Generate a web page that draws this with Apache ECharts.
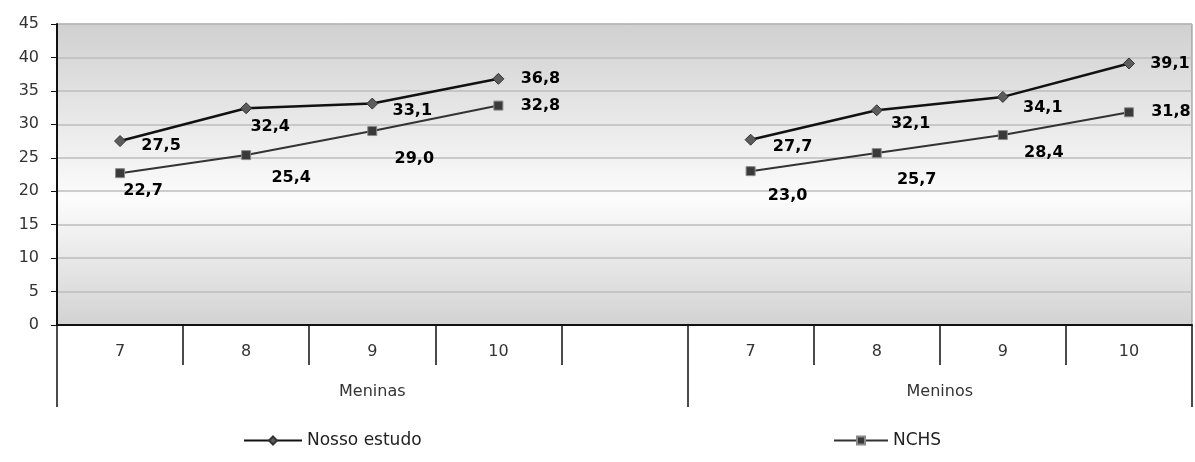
<!DOCTYPE html>
<html>
<head>
<meta charset="utf-8">
<script src="https://cdn.jsdelivr.net/npm/echarts@6/dist/echarts.min.js"></script>
<style>
  html, body { margin: 0; padding: 0; background: #fff; }
  #main { width: 1195px; height: 462px; }
</style>
</head>
<body>
<div id="main"></div>
<script>
// categories: ages per group, with an empty slot between Meninas and Meninos
const ages = ['7', '8', '9', '10', '', '7', '8', '9', '10'];
const groupNames = ['Meninas', 'Meninos'];
const groupSizes = [5, 4];

const seriesNames = ['Nosso estudo', 'NCHS'];
const nossoEstudo = [27.5, 32.4, 33.1, 36.8, null, 27.7, 32.1, 34.1, 39.1];
const nchs = [22.7, 25.4, 29.0, 32.8, null, 23.0, 25.7, 28.4, 31.8];

const yTicks = { min: 0, max: 45, interval: 5 };

// label offsets (px from point), the way Excel dodged them
const nossoLabelOffsets = [[41, 5], [24, 19], [40, 7], [42, 0], null, [42, 7], [34, 14], [40, 11], [41, 0]];
const nchsLabelOffsets = [[23, 18], [45, 23], [42, 28], [42, 0], null, [37, 25], [40, 27], [41, 18], [42, 0]];

// group boundaries and centres on a 0..n scale
const bounds = [0];
groupSizes.forEach((s) => bounds.push(bounds[bounds.length - 1] + s));
const centres = groupNames.map((_, i) => (bounds[i] + bounds[i + 1]) / 2);

const fmt = (p) => p.value.toFixed(1).replace('.', ',');

function withLabels(values, offsets) {
  return values.map((v, i) => {
    if (v == null) return null;
    return { value: v, label: { offset: offsets[i] } };
  });
}

const labelStyle = {
  show: true,
  position: 'inside',
  formatter: fmt,
  fontFamily: 'DejaVu Sans',
  fontWeight: 'bold',
  fontSize: 16,
  color: '#000',
};

const axisFont = { fontFamily: 'DejaVu Sans', fontSize: 16, color: '#333' };

const chart = echarts.init(document.getElementById('main'));
chart.setOption({
  animation: false,
  grid: {
    left: 57, right: 3, top: 24, bottom: 137,
    show: true,
    borderColor: '#8a8a8a',
    borderWidth: 1,
    backgroundColor: new echarts.graphic.LinearGradient(0, 0, 0, 1, [
      { offset: 0, color: '#d0d0d0' },
      { offset: 0.58, color: '#fcfcfc' },
      { offset: 1, color: '#d2d2d2' },
    ]),
  },
  legend: [
    {
      data: [seriesNames[0]], left: 238, top: 427,
      itemWidth: 58, itemHeight: 10, itemGap: 4,
      textStyle: { fontFamily: 'DejaVu Sans', fontSize: 17, color: '#222' },
    },
    {
      data: [seriesNames[1]], left: 828, top: 427,
      itemWidth: 54, itemHeight: 10, itemGap: 4,
      textStyle: { fontFamily: 'DejaVu Sans', fontSize: 17, color: '#222' },
    },
  ],
  xAxis: [
    {
      type: 'category',
      data: ages,
      position: 'bottom',
      axisLine: { lineStyle: { color: '#111', width: 2 } },
      axisTick: { show: true, interval: 0, length: 40, lineStyle: { color: '#111', width: 1.5 } },
      axisLabel: Object.assign({ interval: 0, margin: 19 }, axisFont),
      splitLine: { show: false },
    },
    {
      type: 'value',
      min: 0,
      max: bounds[bounds.length - 1],
      position: 'bottom',
      axisLine: { show: false },
      axisTick: { show: true, customValues: bounds, length: 82, lineStyle: { color: '#111', width: 1.5 } },
      axisLabel: Object.assign({
        customValues: centres,
        margin: 59,
        formatter: (v) => groupNames[centres.indexOf(v)] || '',
      }, axisFont),
      splitLine: { show: false },
    },
  ],
  yAxis: {
    type: 'value',
    min: yTicks.min, max: yTicks.max, interval: yTicks.interval,
    axisLine: { show: true, lineStyle: { color: '#111', width: 2 } },
    axisTick: { show: true, length: 6, lineStyle: { color: '#111' } },
    axisLabel: Object.assign({ margin: 18 }, axisFont),
    splitLine: { lineStyle: { color: '#bdbdbd', width: 1.5 } },
  },
  series: [
    {
      name: seriesNames[0],
      type: 'line',
      xAxisIndex: 0,
      data: withLabels(nossoEstudo, nossoLabelOffsets),
      symbol: 'diamond',
      symbolSize: 11,
      itemStyle: { color: '#5c5c5c', borderColor: '#333', borderWidth: 1 },
      lineStyle: { color: '#111', width: 2.5 },
      label: labelStyle,
    },
    {
      name: seriesNames[1],
      type: 'line',
      xAxisIndex: 0,
      data: withLabels(nchs, nchsLabelOffsets),
      symbol: 'rect',
      symbolSize: 9,
      itemStyle: { color: '#3a3a3a', borderColor: '#8a8a8a', borderWidth: 1 },
      lineStyle: { color: '#333', width: 2 },
      label: labelStyle,
    },
  ],
});
</script>
</body>
</html>
